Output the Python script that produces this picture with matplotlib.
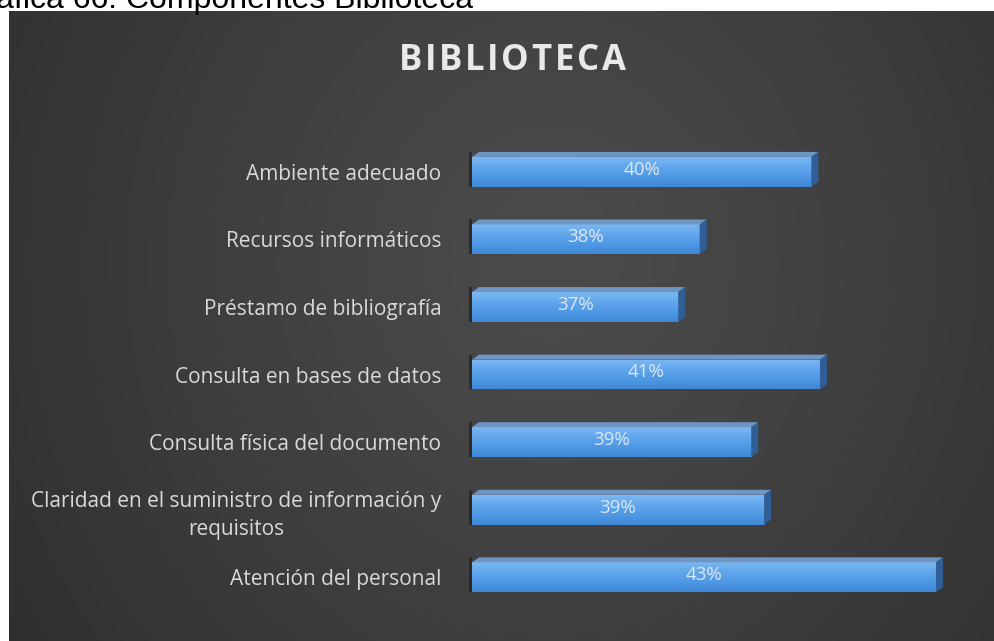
import numpy as np
import matplotlib
matplotlib.use("Agg")
import matplotlib.pyplot as plt
from matplotlib.patches import Polygon, Rectangle
from matplotlib.colors import LinearSegmentedColormap

# ---- data ----
categories = [
    "Ambiente adecuado",
    "Recursos informáticos",
    "Préstamo de bibliografía",
    "Consulta en bases de datos",
    "Consulta física del documento",
    "Claridad en el suministro de información y\nrequisitos",
    "Atención del personal",
]
values = [0.404, 0.378, 0.373, 0.406, 0.390, 0.393, 0.433]
value_labels = ["40%", "38%", "37%", "41%", "39%", "39%", "43%"]
title = "BIBLIOTECA"
caption = "áfica 66: Componentes Biblioteca"
x_min, x_max = 0.325, 0.44

W, H = 995, 641
fig = plt.figure(figsize=(W / 100, H / 100), dpi=100)
fig.patch.set_facecolor("white")

# ---- background panel with radial gradient ----
bg_l, bg_b, bg_r, bg_t = 9, 0, 995, 630
bgax = fig.add_axes([bg_l / W, bg_b / H, (bg_r - bg_l) / W, (bg_t - bg_b) / H])
bgax.set_axis_off()
nx, ny = 400, 260
xx, yy = np.meshgrid(np.linspace(0, 1, nx), np.linspace(0, 1, ny))
cx, cy = 0.55, 0.6
d = np.sqrt(((xx - cx) / 0.75) ** 2 + ((yy - cy) / 1.3) ** 2)
d = np.clip(d, 0, 1)
val = 0x4b - (0x4b - 0x2a) * d ** 1.2
img = np.dstack([val, val, val]) / 255.0
bgax.imshow(img, extent=[0, 1, 0, 1], origin="lower", aspect="auto")
bgax.set_xlim(0, 1)
bgax.set_ylim(0, 1)

# caption (partly cut at top, as in the source image)
fig.text(473 / W, 1 - 8 / H, caption, ha="right", va="baseline",
         fontsize=23, family="Liberation Sans", color="black")

# title with letter spacing
renderer = fig.canvas.get_renderer()
widths = []
for ch in title:
    t = fig.text(0, 0, ch, fontsize=25, fontweight="bold", family="Open Sans")
    bb = t.get_window_extent(renderer=renderer)
    widths.append(bb.width)
    t.remove()
spacing = 2.7
total = sum(widths) + spacing * (len(title) - 1)
x = 512 - total / 2
for ch, w in zip(title, widths):
    fig.text(x / W, 1 - 61 / H, ch, ha="left", va="center", fontsize=25,
             fontweight="bold", family="Open Sans", color="#e9e9e9")
    x += w + spacing

# ---- main axes ----
ax_l, ax_r = 472, 966
y_top, y_bot = 138, 611
ax = fig.add_axes([ax_l / W, (H - y_bot) / H, (ax_r - ax_l) / W, (y_bot - y_top) / H])
ax.patch.set_alpha(0)
ax.set_xlim(x_min, x_max)
ax.set_ylim(len(categories) - 0.5, -0.5)
for s in ax.spines.values():
    s.set_visible(False)
ax.set_xticks([])
ax.set_yticks(range(len(categories)))
ax.set_yticklabels(categories, fontsize=15, family="Open Sans", color="#d9d9d9",
                   linespacing=1.45, ha="right")
ax.tick_params(axis="y", length=0, pad=22)
for t in ax.get_yticklabels():
    t.set_multialignment("center")

bar_h = 0.44
bars = ax.barh(range(len(categories)), [v - x_min for v in values], left=x_min,
               height=bar_h, color="#4a94e0", zorder=2)

# pixel -> data conversion for 3D depth
px_x = (x_max - x_min) / (ax_r - ax_l)
px_y = (len(categories)) / (y_bot - y_top)
dx, dy = 7 * px_x, 5 * px_y

cmap = LinearSegmentedColormap.from_list("front", ["#7ab8f2", "#62a6ec", "#4e98e4", "#3f88d6"])
grad = np.linspace(0, 1, 64).reshape(-1, 1)

for i, (b, v, lab) in enumerate(zip(bars, values, value_labels)):
    x0 = b.get_x()
    x1 = x0 + b.get_width()
    yc = b.get_y() + b.get_height() / 2
    ytop = yc - bar_h / 2  # smaller y value = visually top (inverted axis)
    ybot = yc + bar_h / 2
    im = ax.imshow(grad, extent=[x0, x1, ybot, ytop], cmap=cmap, aspect="auto",
                   origin="upper", zorder=3)
    im.set_clip_path(b)
    # top face
    ax.add_patch(Polygon([[x0, ytop], [x1, ytop], [x1 + dx, ytop - dy], [x0 + dx, ytop - dy]],
                         closed=True, facecolor="#6f95c2", edgecolor="none", zorder=3))
    # side face
    ax.add_patch(Polygon([[x1, ytop], [x1 + dx, ytop - dy], [x1 + dx, ybot - dy], [x1, ybot]],
                         closed=True, facecolor="#2f5f96", edgecolor="none", zorder=3))
    # left-end shadow
    ax.add_patch(Rectangle((x0 - 3 * px_x, ytop - dy), 3 * px_x, bar_h + dy,
                           facecolor="#1e1a18", alpha=0.6, edgecolor="none", zorder=2,
                           clip_on=False))
    ax.text((x0 + x1) / 2, yc - 0.03, lab, ha="center", va="center", fontsize=13.5,
            family="Open Sans", color="#dbe7f5", zorder=5)

fig.savefig("out.png", dpi=100)
